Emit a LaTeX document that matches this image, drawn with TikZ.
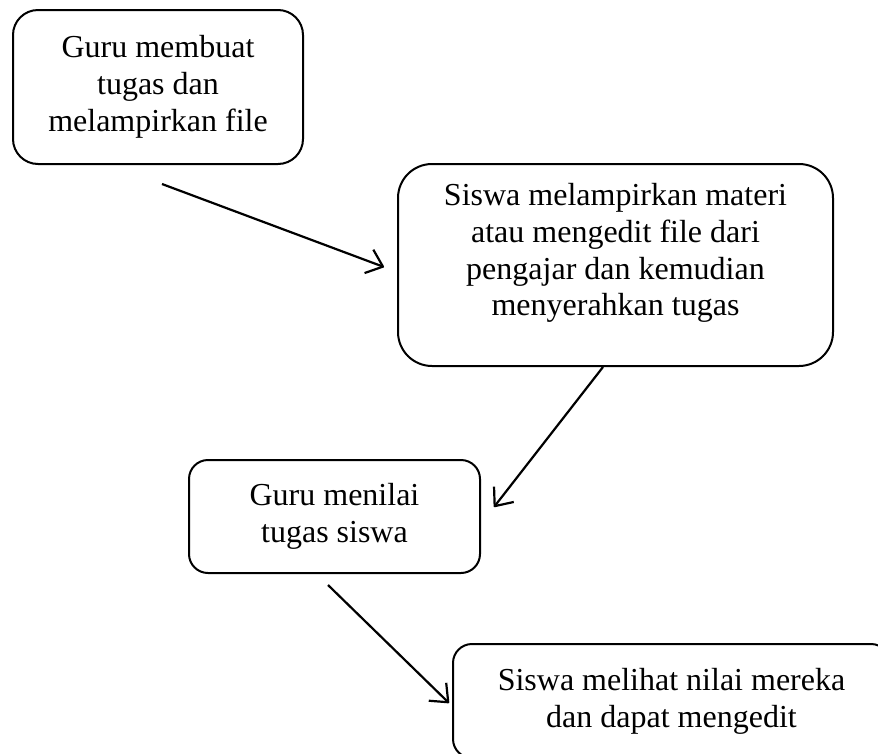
\documentclass[tikz,border=0pt]{standalone}
\usepackage{fontspec}
\setmainfont{Liberation Serif}
\usetikzlibrary{arrows.meta}
\tikzset{
  box/.style={draw, line width=2pt, align=center, inner sep=0pt,
    font=\fontsize{32}{36.8}\selectfont},
  arr/.style={line width=2.2pt, -{Straight Barb[length=15pt,width=25pt,line join=round]}}
}
\begin{document}
\begin{tikzpicture}[x=1pt,y=-1pt]
\useasboundingbox (0,0) rectangle (878,753);
\clip (0,0) rectangle (878,753);
\node[box, rounded corners=25pt, minimum width=290pt, minimum height=154pt] (b1) at (158,87)
  {Guru membuat\\tugas dan\\melampirkan file};
\node[box, rounded corners=34pt, minimum width=435pt, minimum height=202pt] (b2) at (615.5,265)
  {Siswa melampirkan materi\\atau mengedit file dari\\pengajar dan kemudian\\menyerahkan tugas\\[-6pt]};
\node[box, rounded corners=19pt, minimum width=291pt, minimum height=113pt] (b3) at (334.5,516.5)
  {Guru menilai\\tugas siswa};
\node[box, rounded corners=19pt, minimum width=437pt, minimum height=114pt] (b4) at (671.5,701)
  {Siswa melihat nilai mereka\\dan dapat mengedit};
\draw[arr] ([xshift=4pt,yshift=-19pt]b1.south) -- ([xshift=-13pt,yshift=-2pt]b2.west);
\draw[arr] ([xshift=-12.5pt]b2.south) -- ([xshift=13pt,yshift=9.5pt]b3.east);
\draw[arr] ([xshift=-6.5pt,yshift=-11pt]b3.south) -- ([xshift=-3pt,yshift=-2pt]b4.west);
\end{tikzpicture}
\end{document}
